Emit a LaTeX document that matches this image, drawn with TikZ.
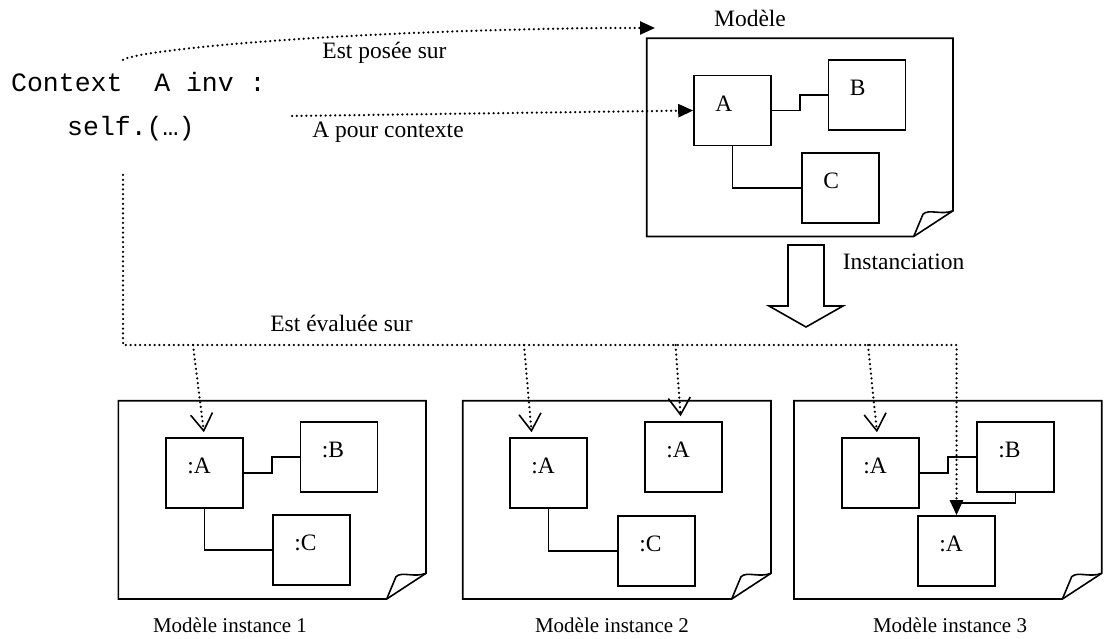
\documentclass[tikz,border=0pt]{standalone}
\usepackage{fontspec}
\setmainfont{Liberation Serif}
\setmonofont{Liberation Mono}
\usetikzlibrary{arrows.meta,calc}

\newcommand{\docpage}[4]{%
  \draw[pageline] (#1,#2) -- (#3,#2) -- (#3,#4-25.7) -- (#3-39.3,#4) -- (#1,#4) -- cycle;
  \draw[pageline] (#3-39.3,#4) -- (#3-30,#4-22.3) .. controls (#3-24,#4-28) and (#3-12,#4-21) .. (#3,#4-25.7);
}

\begin{document}
\begin{tikzpicture}[x=1pt,y=-1pt,
  font=\fontsize{23.5}{26}\selectfont,
  pageline/.style={line width=1.6pt},
  box/.style={draw, line width=1.6pt, minimum width=77pt, minimum height=70pt, inner sep=0pt},
  tag/.style={label={[anchor=west,inner sep=0pt,xshift=22pt,yshift=7pt]west:{#1}}},
  link/.style={line width=1.6pt},
  dots/.style={line width=2.5pt, dash pattern=on 0pt off 4.8pt, line cap=round},
  lbl/.style={inner sep=0pt},
  pagetitle/.style={inner sep=0pt, anchor=base, font=\fontsize{21}{24}\selectfont},
  code/.style={font=\fontsize{26.5}{30}\selectfont\ttfamily, inner sep=0pt, anchor=base west},
  opentip/.tip={Straight Barb[length=17pt,width=22pt,line width=1.6pt]},
  filltip/.tip={Triangle[length=15pt,width=13pt]}]
\useasboundingbox (0,0) rectangle (1104,639);

\node[code] (ctxline) at (11,92) {Context~~A inv :};
\node[code] (selfline) at (67,136) {self.(…)};

\docpage{646.7}{38.3}{953}{236.5}
\node[lbl, anchor=base] (modeltitle) at (750,27) {Modèle};
\node[box, tag=A] (mA) at (732.5,110.5) {};
\node[box, tag=B] (mB) at (867,95) {};
\node[box, tag=C] (mC) at (840.5,188) {};
\draw[link] (mA.east) -| ($(mA.east)!.5!(mB.west)$) |- (mB.west);
\draw[link] (mA.south) |- (mC.west);

\draw[pageline] (788,245) -- (824,245) -- (824,306) -- (843,306) -- (806,327) -- (769,306) -- (788,306) -- cycle;
\node[lbl, anchor=base west] (insttxt) at (842.7,270) {Instanciation};

\docpage{118.3}{400.7}{426}{599}
\node[box, tag=:A] (iaA) at (204.5,473) {};
\node[box, tag=:B] (iaB) at (339,457) {};
\node[box, tag=:C] (iaC) at (311.5,550) {};
\draw[link] (iaA.east) -| ($(iaA.east)!.5!(iaB.west)$) |- (iaB.west);
\draw[link] (iaA.south) |- (iaC.west);
\node[pagetitle] (inst1) at (230,632) {Modèle instance 1};

\docpage{462.7}{400.7}{771}{599}
\node[box, tag=:A] (ibA) at (548.5,473) {};
\node[box, tag=:A] (ibA2) at (683.5,457) {};
\node[box, tag=:C] (ibC) at (656.5,551) {};
\draw[link] (ibA.south) |- (ibC.west);
\node[pagetitle] (inst2) at (612,632) {Modèle instance 2};

\docpage{794}{400.7}{1101.7}{599}
\node[box, tag=:A] (icA) at (880.5,473) {};
\node[box, tag=:B] (icB) at (1015.5,457) {};
\node[box, tag=:A] (icA2) at (956.5,551) {};
\draw[link] (icA.east) -| ($(icA.east)!.5!(icB.west)$) |- (icB.west);
\draw[link] (icB.south) |- ([yshift=12pt]icA2.north);
\node[pagetitle] (inst3) at (950,632) {Modèle instance 3};

\coordinate (posstart) at (123,60);
\coordinate (modeltip) at (655,28);
\draw[dots, -filltip] (posstart) .. controls (130,52) and (300,32) .. (600,28) -- (modeltip);
\node[lbl] (poseetxt) at (384.5,53) {Est posée sur};

\coordinate (ctxstart) at (292,116);
\draw[dots, -filltip] (ctxstart) -- (mA.west);
\node[lbl] (contextetxt) at (388,132.5) {A pour contexte};

\coordinate (evstart) at (123,175);
\coordinate (evcorner) at (123,345);
\coordinate (j1) at (193,345);
\coordinate (j2) at (524,345);
\coordinate (j3) at (675.5,345);
\coordinate (j4) at (868,345);
\draw[dots, -filltip] (evstart) -- (evcorner) -- (icA2.north |- evcorner) -- (icA2.north);
\draw[dots, -opentip, shorten >=5pt] (j1) -- (iaA.north);
\draw[dots, -opentip, shorten >=5pt] (j2) -- ([xshift=-16.5pt]ibA.north);
\draw[dots, -opentip, shorten >=5pt] (j3) -- ([xshift=-2.5pt]ibA2.north);
\draw[dots, -opentip, shorten >=5pt] (j4) -- ([xshift=-3pt]icA.north);
\node[lbl, anchor=base] (evaltxt) at (341.5,331.5) {Est évaluée sur};
\end{tikzpicture}
\end{document}
